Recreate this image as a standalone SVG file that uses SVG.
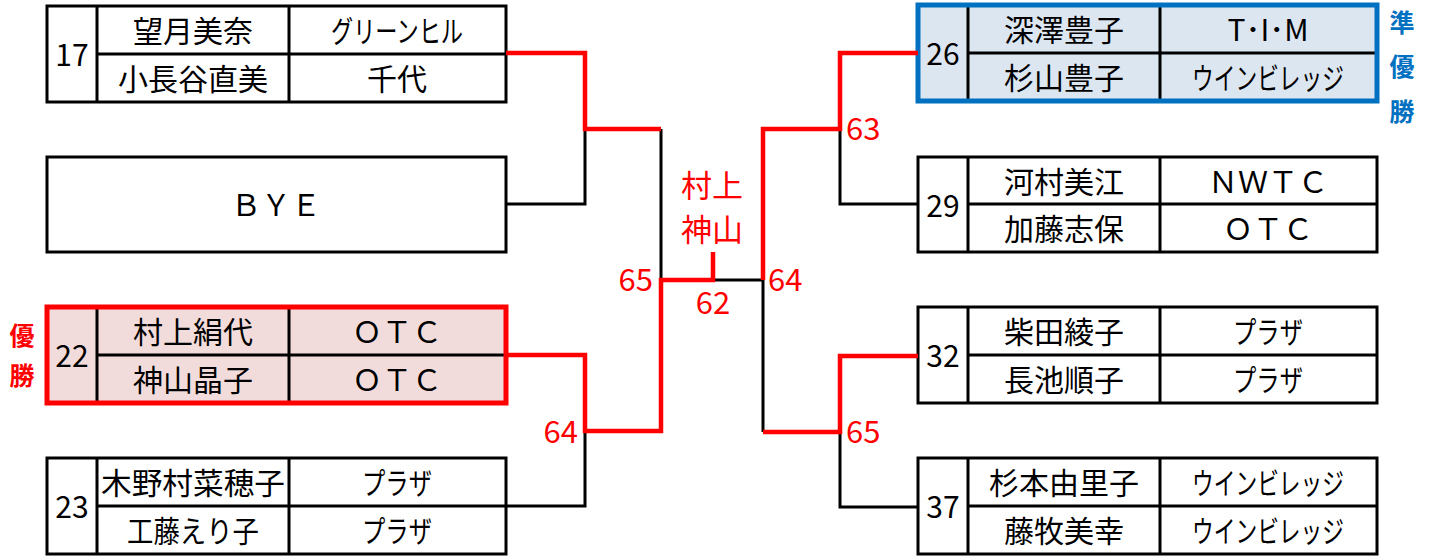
<svg xmlns="http://www.w3.org/2000/svg" width="1435" height="558" viewBox="0 0 1435 558">
<style>
.box{fill:#fff;stroke:#000;stroke-width:3}
.div{stroke:#000;stroke-width:3;fill:none}
.t{font-family:"Noto Sans CJK JP","Noto Sans",sans-serif;font-size:30px;fill:#000;text-anchor:middle;dominant-baseline:central}
.n{font-family:"Noto Sans CJK JP","Noto Sans",sans-serif;font-size:30px;fill:#000;text-anchor:middle;dominant-baseline:central}
.bk{stroke:#000;stroke-width:3;fill:none}
.rd{stroke:#ff0000;stroke-width:4.5;fill:none}
.lb{font-family:"Noto Sans CJK JP","Noto Sans",sans-serif;font-size:31px;fill:#ff0000}
.win{font-family:"Noto Sans CJK JP",sans-serif;font-size:25px;font-weight:bold;text-anchor:middle;dominant-baseline:central}
</style>
<defs>
<g id="grid">
<path class="div" d="M50 0V96M242 0V96M50 48H459"/>
</g>
</defs>

<g id="p17" transform="translate(47,6)">
<rect class="box" width="459" height="96"/>
<use href="#grid"/>
<text class="n" x="25" y="47">17</text>
<text class="t" x="146" y="23">望月美奈</text>
<text class="t" x="146" y="71">小長谷直美</text>
<text class="t" x="350" y="23" textLength="132" lengthAdjust="spacingAndGlyphs">グリーンヒル</text>
<text class="t" x="350" y="71">千代</text>
</g>

<g id="bye" transform="translate(47,157)">
<rect class="box" width="459" height="95"/>
<text class="t" x="229" y="46">ＢＹＥ</text>
</g>

<g id="p22" transform="translate(47,307)">
<rect width="459" height="96" fill="#f2dcdb"/>
<use href="#grid"/>
<rect width="459" height="96" fill="none" stroke="#ff0000" stroke-width="5"/>
<text class="n" x="25" y="47">22</text>
<text class="t" x="146" y="23">村上絹代</text>
<text class="t" x="146" y="71">神山晶子</text>
<text class="t" x="350" y="23">ＯＴＣ</text>
<text class="t" x="350" y="71">ＯＴＣ</text>
</g>

<g id="p23" transform="translate(47,458)">
<rect class="box" width="459" height="96"/>
<use href="#grid"/>
<text class="n" x="25" y="47">23</text>
<text class="t" x="146" y="23" textLength="184" lengthAdjust="spacingAndGlyphs">木野村菜穂子</text>
<text class="t" x="146" y="71" textLength="132" lengthAdjust="spacingAndGlyphs">工藤えり子</text>
<text class="t" x="350" y="23" textLength="70" lengthAdjust="spacingAndGlyphs">プラザ</text>
<text class="t" x="350" y="71" textLength="70" lengthAdjust="spacingAndGlyphs">プラザ</text>
</g>

<g id="p26" transform="translate(918,5)">
<rect width="459" height="96" fill="#dce6f1"/>
<use href="#grid"/>
<rect width="459" height="96" fill="none" stroke="#0070c0" stroke-width="5"/>
<text class="n" x="25" y="47">26</text>
<text class="t" x="146" y="23">深澤豊子</text>
<text class="t" x="146" y="71">杉山豊子</text>
<text class="t" x="350" y="23">T･I･M</text>
<text class="t" x="350" y="71" textLength="152" lengthAdjust="spacingAndGlyphs">ウインビレッジ</text>
</g>

<g id="p29" transform="translate(918,157)">
<rect class="box" width="459" height="95"/>
<path class="div" d="M50 0V95M242 0V95M50 47H459"/>
<text class="n" x="25" y="47">29</text>
<text class="t" x="146" y="23">河村美江</text>
<text class="t" x="146" y="70">加藤志保</text>
<text class="t" x="350" y="23">ＮＷＴＣ</text>
<text class="t" x="350" y="70">ＯＴＣ</text>
</g>

<g id="p32" transform="translate(918,307)">
<rect class="box" width="459" height="96"/>
<use href="#grid"/>
<text class="n" x="25" y="47">32</text>
<text class="t" x="146" y="23">柴田綾子</text>
<text class="t" x="146" y="71">長池順子</text>
<text class="t" x="350" y="23" textLength="70" lengthAdjust="spacingAndGlyphs">プラザ</text>
<text class="t" x="350" y="71" textLength="70" lengthAdjust="spacingAndGlyphs">プラザ</text>
</g>

<g id="p37" transform="translate(918,458)">
<rect class="box" width="459" height="96"/>
<use href="#grid"/>
<text class="n" x="25" y="47">37</text>
<text class="t" x="146" y="23">杉本由里子</text>
<text class="t" x="146" y="71">藤牧美幸</text>
<text class="t" x="350" y="23" textLength="152" lengthAdjust="spacingAndGlyphs">ウインビレッジ</text>
<text class="t" x="350" y="71" textLength="152" lengthAdjust="spacingAndGlyphs">ウインビレッジ</text>
</g>

<g id="connectors">
<path class="bk" d="M506 204H585V129"/>
<path class="bk" d="M661 129V280"/>
<path class="bk" d="M506 506H585V431"/>
<path class="bk" d="M713 280H763V432"/>
<path class="bk" d="M918 204H840V129"/>
<path class="bk" d="M918 507H840V432"/>
<path class="rd" d="M506 53H585V129H661"/>
<path class="rd" d="M506 355H585V431H661V280H713V252"/>
<path class="rd" d="M918 53H840V129H763V280"/>
<path class="rd" d="M918 356H840V432H763"/>
</g>

<g id="labels">
<text class="lb" x="653" y="291" text-anchor="end">65</text>
<text class="lb" x="768" y="291">64</text>
<text class="lb" x="713" y="314" text-anchor="middle">62</text>
<text class="lb" x="712" y="183" text-anchor="middle" dominant-baseline="central">村上</text>
<text class="lb" x="712" y="227" text-anchor="middle" dominant-baseline="central">神山</text>
<text class="lb" x="578" y="443" text-anchor="end">64</text>
<text class="lb" x="846" y="140">63</text>
<text class="lb" x="846" y="443">65</text>
<text class="win" fill="#ff0000"><tspan x="22" y="334">優</tspan><tspan x="22" y="374">勝</tspan></text>
<text class="win" fill="#0070c0"><tspan x="1402" y="21">準</tspan><tspan x="1402" y="65">優</tspan><tspan x="1402" y="110">勝</tspan></text>
</g>
</svg>
